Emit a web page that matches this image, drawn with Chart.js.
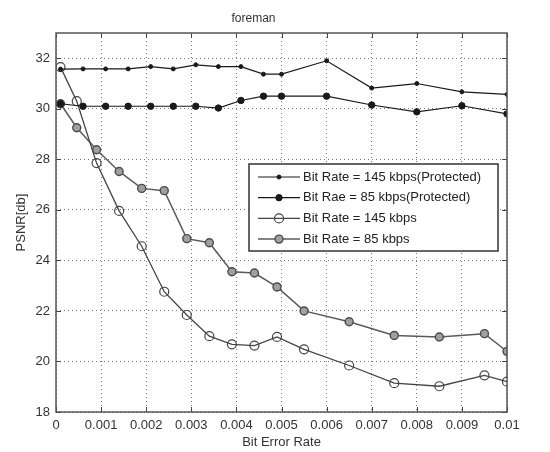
<!DOCTYPE html>
<html>
<head>
<meta charset="utf-8">
<script src="https://cdn.jsdelivr.net/npm/chart.js@4/dist/chart.umd.min.js"></script>
<style>
  html, body { margin: 0; padding: 0; background: #fff; }
  canvas { display: block; }
</style>
</head>
<body>
<canvas id="chart" width="550" height="452"></canvas>
<script>
// bit error rates where the protected runs were measured
const berProtected = [0.0001, 0.0006, 0.0011, 0.0016, 0.0021, 0.0026, 0.0031, 0.0036,
  0.0041, 0.0046, 0.005, 0.006, 0.007, 0.008, 0.009, 0.01];
const psnr145Protected = [31.57, 31.58, 31.58, 31.58, 31.67, 31.58, 31.74, 31.67,
  31.67, 31.37, 31.37, 31.9, 30.82, 31.0, 30.67, 30.57];
const psnr85Protected = [30.2, 30.1, 30.1, 30.1, 30.1, 30.1, 30.1, 30.03,
  30.33, 30.5, 30.5, 30.5, 30.15, 29.88, 30.12, 29.8];

// bit error rates for the unprotected runs
const berPlain = [0.0001, 0.00046, 0.0009, 0.0014, 0.0019, 0.0024, 0.0029, 0.0034,
  0.0039, 0.0044, 0.0049, 0.0055, 0.0065, 0.0075, 0.0085, 0.0095, 0.01];
const psnr145 = [31.65, 30.3, 27.85, 25.96, 24.56, 22.76, 21.84, 21.0,
  20.68, 20.63, 20.97, 20.48, 19.84, 19.14, 19.02, 19.45, 19.2];
const psnr85 = [30.2, 29.25, 28.38, 27.52, 26.85, 26.76, 24.86, 24.7,
  23.55, 23.5, 22.95, 22.0, 21.57, 21.03, 20.97, 21.1, 20.4];

const seriesNames = [
  "Bit Rate = 145 kbps(Protected)",
  "Bit Rae = 85 kbps(Protected)",
  "Bit Rate = 145 kbps",
  "Bit Rate = 85 kbps"
];

const xTicks = [0, 0.001, 0.002, 0.003, 0.004, 0.005, 0.006, 0.007, 0.008, 0.009, 0.01];
const xTickLabels = ["0", "0.001", "0.002", "0.003", "0.004", "0.005", "0.006", "0.007", "0.008", "0.009", "0.01"];
const yTicks = [18, 20, 22, 24, 26, 28, 30, 32];

const FONT = "'Liberation Sans', Arial, sans-serif";

const toPoints = (xs, ys) => ys.map((y, i) => ({ x: xs[i], y: y }));

// matlab-ish box with inward tick marks and a boxed legend
const matlabFrame = {
  id: "matlabFrame",
  afterDraw(chart) {
    const { ctx, chartArea: a, scales } = chart;
    ctx.save();
    ctx.strokeStyle = "#444";
    ctx.lineWidth = 1;
    ctx.beginPath();
    scales.x.ticks.forEach((t) => {
      const px = Math.round(scales.x.getPixelForValue(t.value)) + 0.5;
      ctx.moveTo(px, a.bottom); ctx.lineTo(px, a.bottom - 5);
      ctx.moveTo(px, a.top); ctx.lineTo(px, a.top + 5);
    });
    scales.y.ticks.forEach((t) => {
      const py = Math.round(scales.y.getPixelForValue(t.value)) + 0.5;
      ctx.moveTo(a.left, py); ctx.lineTo(a.left + 5, py);
      ctx.moveTo(a.right, py); ctx.lineTo(a.right - 5, py);
    });
    ctx.stroke();
    ctx.lineWidth = 1.5;
    ctx.strokeStyle = "#555";
    ctx.strokeRect(a.left, a.top, a.right - a.left, a.bottom - a.top);

    // legend
    const lx = a.left + 193, ly = a.top + 131, lw = 249, lh = 87;
    ctx.fillStyle = "#fff";
    ctx.fillRect(lx, ly, lw, lh);
    ctx.lineWidth = 1.5;
    ctx.strokeStyle = "#333";
    ctx.strokeRect(lx, ly, lw, lh);
    ctx.font = "13px " + FONT;
    ctx.textBaseline = "middle";
    chart.data.datasets.forEach((ds, i) => {
      const cy = ly + 13 + i * 20.7;
      ctx.strokeStyle = ds.borderColor;
      ctx.lineWidth = ds.borderWidth;
      ctx.beginPath();
      ctx.moveTo(lx + 9, cy); ctx.lineTo(lx + 51, cy);
      ctx.stroke();
      ctx.beginPath();
      ctx.arc(lx + 30, cy, ds.pointRadius, 0, Math.PI * 2);
      ctx.fillStyle = ds.pointBackgroundColor;
      ctx.fill();
      ctx.lineWidth = ds.pointBorderWidth;
      ctx.strokeStyle = ds.pointBorderColor;
      ctx.stroke();
      ctx.fillStyle = "#222";
      ctx.fillText(ds.label, lx + 54, cy);
    });
    ctx.restore();
  }
};

new Chart(document.getElementById("chart"), {
  type: "line",
  data: {
    datasets: [
      {
        label: seriesNames[0],
        data: toPoints(berProtected, psnr145Protected),
        borderColor: "#1a1a1a", borderWidth: 1.2,
        pointRadius: 2, pointBackgroundColor: "#1a1a1a",
        pointBorderColor: "#1a1a1a", pointBorderWidth: 1
      },
      {
        label: seriesNames[1],
        data: toPoints(berProtected, psnr85Protected),
        borderColor: "#1a1a1a", borderWidth: 1.2,
        pointRadius: 3.2, pointBackgroundColor: "#1a1a1a",
        pointBorderColor: "#1a1a1a", pointBorderWidth: 1
      },
      {
        label: seriesNames[2],
        data: toPoints(berPlain, psnr145),
        borderColor: "#444", borderWidth: 1.3,
        pointRadius: 4.5, pointBackgroundColor: "rgba(0,0,0,0)",
        pointBorderColor: "#444", pointBorderWidth: 1.2
      },
      {
        label: seriesNames[3],
        data: toPoints(berPlain, psnr85),
        borderColor: "#5a5a5a", borderWidth: 1.5,
        pointRadius: 4, pointBackgroundColor: "#a0a0a0",
        pointBorderColor: "#4a4a4a", pointBorderWidth: 1.4
      }
    ]
  },
  options: {
    responsive: false,
    animation: false,
    layout: { padding: { left: 0, right: 43, top: 0, bottom: 0 } },
    plugins: {
      legend: { display: false },
      tooltip: { enabled: false },
      title: {
        display: true,
        text: "foreman",
        color: "#333",
        font: { family: FONT, size: 12, weight: "normal" },
        padding: { top: 11, bottom: 7.6 }
      }
    },
    scales: {
      x: {
        type: "linear",
        min: 0,
        max: 0.01,
        afterBuildTicks: (scale) => { scale.ticks = xTicks.map((v) => ({ value: v })); },
        afterFit: (scale) => { scale.height = 40; },
        ticks: {
          color: "#333",
          font: { family: FONT, size: 13 },
          padding: 6,
          maxRotation: 0,
          autoSkip: false,
          callback: (v, i) => xTickLabels[i]
        },
        grid: { color: "#777", drawTicks: false },
        border: { display: false, dash: [1, 3] },
        title: {
          display: true,
          text: "Bit Error Rate",
          color: "#333",
          font: { family: FONT, size: 13 },
          padding: { top: 0, bottom: 2 }
        }
      },
      y: {
        type: "linear",
        min: 18,
        max: 33,
        afterBuildTicks: (scale) => { scale.ticks = yTicks.map((v) => ({ value: v })); },
        afterFit: (scale) => { scale.width = 56; },
        ticks: {
          color: "#333",
          font: { family: FONT, size: 13 },
          padding: 6
        },
        grid: { color: "#777", drawTicks: false },
        border: { display: false, dash: [1, 3] },
        title: {
          display: true,
          text: "PSNR[db]",
          color: "#333",
          font: { family: FONT, size: 13 },
          padding: { top: 14, bottom: 0 }
        }
      }
    }
  },
  plugins: [matlabFrame]
});
</script>
</body>
</html>
